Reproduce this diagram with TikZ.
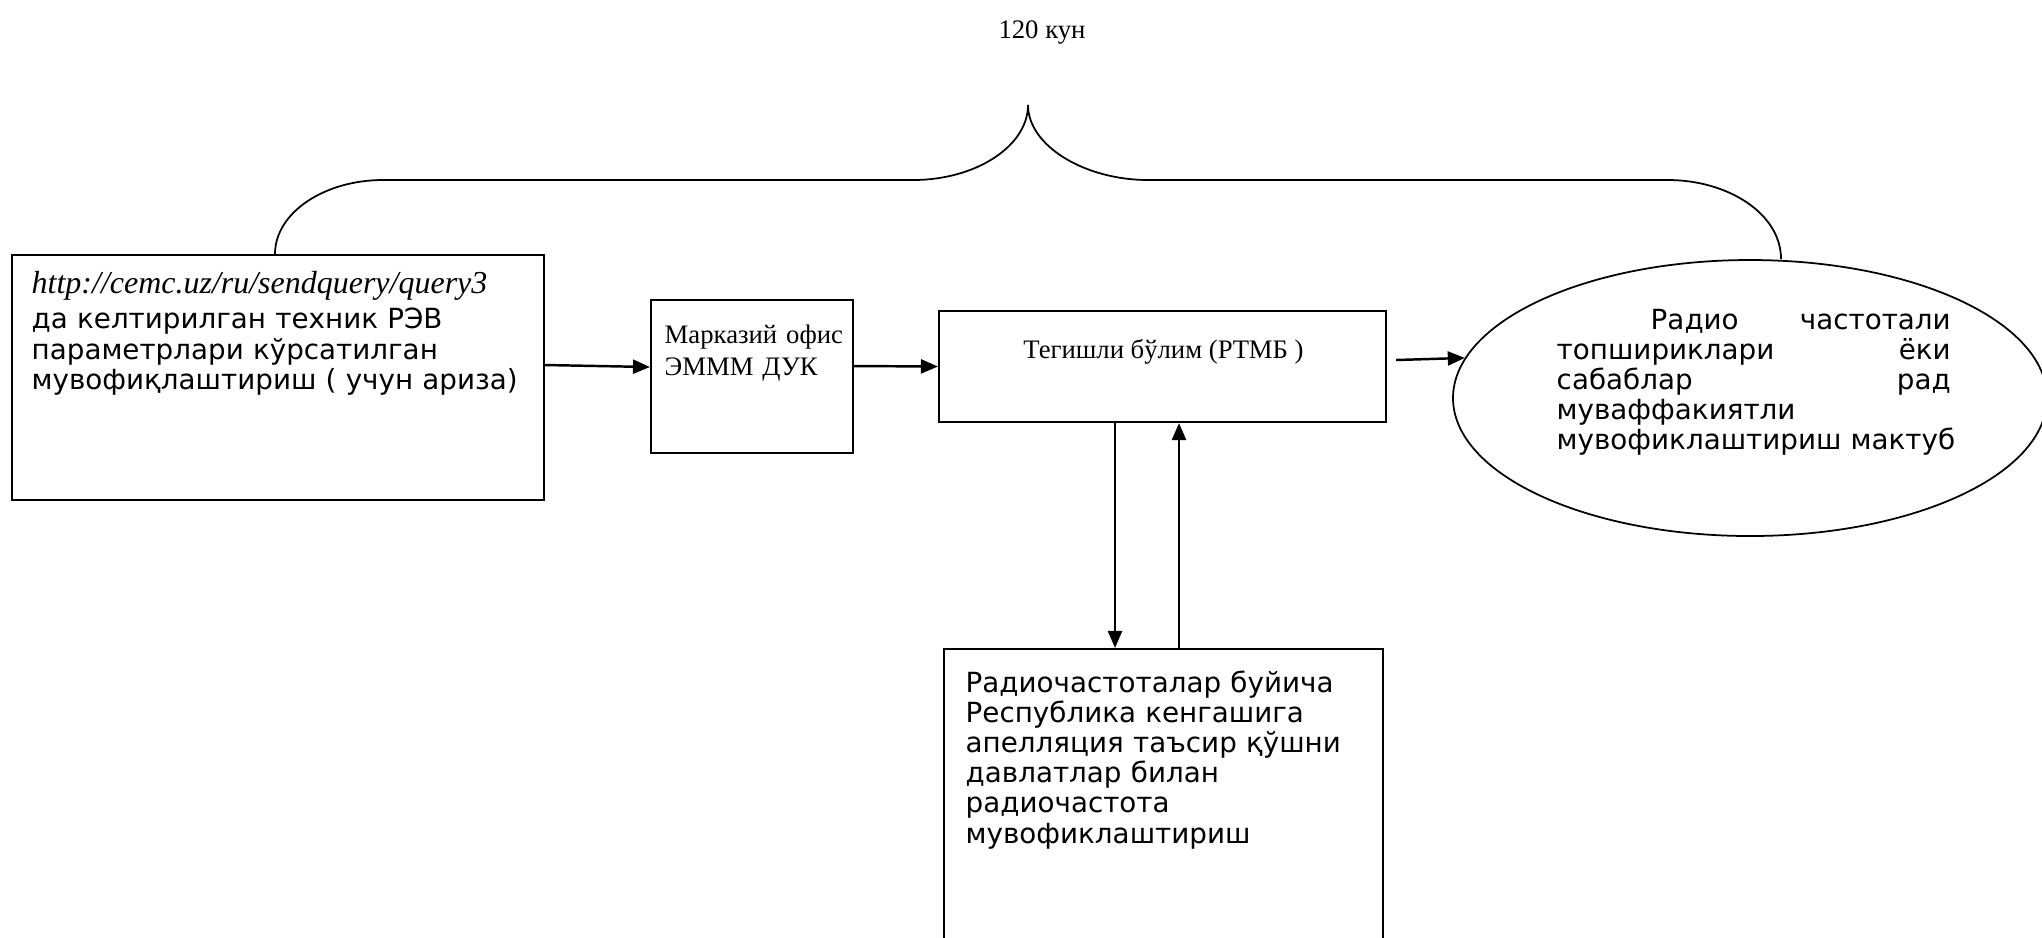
\documentclass[tikz,border=0pt]{standalone}
\usepackage{fontspec}
\setmainfont{Liberation Serif}
\newfontfamily\verd{DejaVu Sans}
\usetikzlibrary{arrows.meta,shapes.geometric}

\begin{document}
\begin{tikzpicture}[
    box/.style={draw, line width=0.6pt, inner sep=0pt},
    txt/.style={inner sep=0pt, anchor=base west, align=left},
    arr/.style={line width=0.7pt, -{Triangle[length=1.7mm,width=1.4mm]}},
    sans/.style={font=\verd\fontsize{7.9}{8.6}\selectfont},
    serif/.style={font=\fontsize{7.6}{9.1}\selectfont}
  ]
    \useasboundingbox (0,0) rectangle (20.42,-9.37);

    \node[serif] (days) at (10.42,-0.32) {120 кун};

    \node[box, minimum width=5.32cm, minimum height=2.45cm] (appl) at (2.78,-3.775) {};
    \node[box, minimum width=2.02cm, minimum height=1.53cm] (office) at (7.52,-3.765) {};
    \node[box, minimum width=4.47cm, minimum height=1.11cm] (dept) at (11.625,-3.665) {};
    \node[box, ellipse, line width=0.5pt, minimum width=5.94cm, minimum height=2.76cm] (reply) at (17.50,-3.98) {};
    \node[box, minimum width=4.39cm, minimum height=3.51cm] (council) at (11.635,-8.245) {};

    \node[txt, sans, text width=5.1cm] (appltext) at (0.31,-2.93)
        {{\rmfamily\itshape\fontsize{9.1}{8.6}\selectfont http://cemc.uz/ru/sendquery/query3}\\[1.6pt]
         да келтирилган техник РЭВ\\ параметрлари кўрсатилган\\ мувофиқлаштириш ( учун ариза)};
    \node[txt, serif, text width=1.8cm] (officetext) at (6.64,-3.43) {Марказий офис\\ ЭМММ ДУК};
    \node[serif, inner sep=0pt, anchor=base] (depttext) at (11.635,-3.58) {Тегишли бўлим (РТМБ )};
    \node[txt, sans, text width=4.2cm] (replytext) at (15.56,-3.29)
        {\makebox[3.94cm][l]{\hspace{0.94cm}Радио\hfill частотали}\\
         \makebox[3.94cm][l]{топшириклари\hfill ёки}\\
         \makebox[3.94cm][l]{сабаблар\hfill рад}\\
         муваффакиятли\\
         мувофиклаштириш мактуб};
    \node[txt, sans, text width=4.1cm] (counciltext) at (9.65,-6.92)
        {Радиочастоталар буйича\\ Республика кенгашига\\ апелляция таъсир қўшни\\ давлатлар билан\\ радиочастота\\ мувофиклаштириш};

    \draw[line width=0.5pt] ([xshift=-0.03cm]appl.north) .. controls +(0,0.41) and (3.24,-1.80) .. (3.83,-1.80)
        -- (9.13,-1.80) .. controls (9.76,-1.80) and (10.28,-1.46) .. (10.28,-1.05)
        .. controls (10.28,-1.46) and (10.85,-1.80) .. (11.48,-1.80)
        -- (16.68,-1.80) .. controls (17.27,-1.80) and (17.81,-2.13) .. ([xshift=0.31cm]reply.north);

    \draw[arr] ([yshift=0.125cm]appl.east) -- ([yshift=0.095cm]office.west);
    \draw[arr] ([yshift=0.105cm]office.east) -- (dept.west);
    \draw[arr] ([xshift=0.09cm,yshift=0.065cm]dept.east) -- (reply.172.4);
    \draw[arr] ([xshift=-0.475cm]dept.south) -- ([xshift=-0.475cm]dept.south |- council.north);
    \draw[arr] ([xshift=0.165cm]dept.south |- council.north) -- ([xshift=0.165cm]dept.south);
\end{tikzpicture}
\end{document}
